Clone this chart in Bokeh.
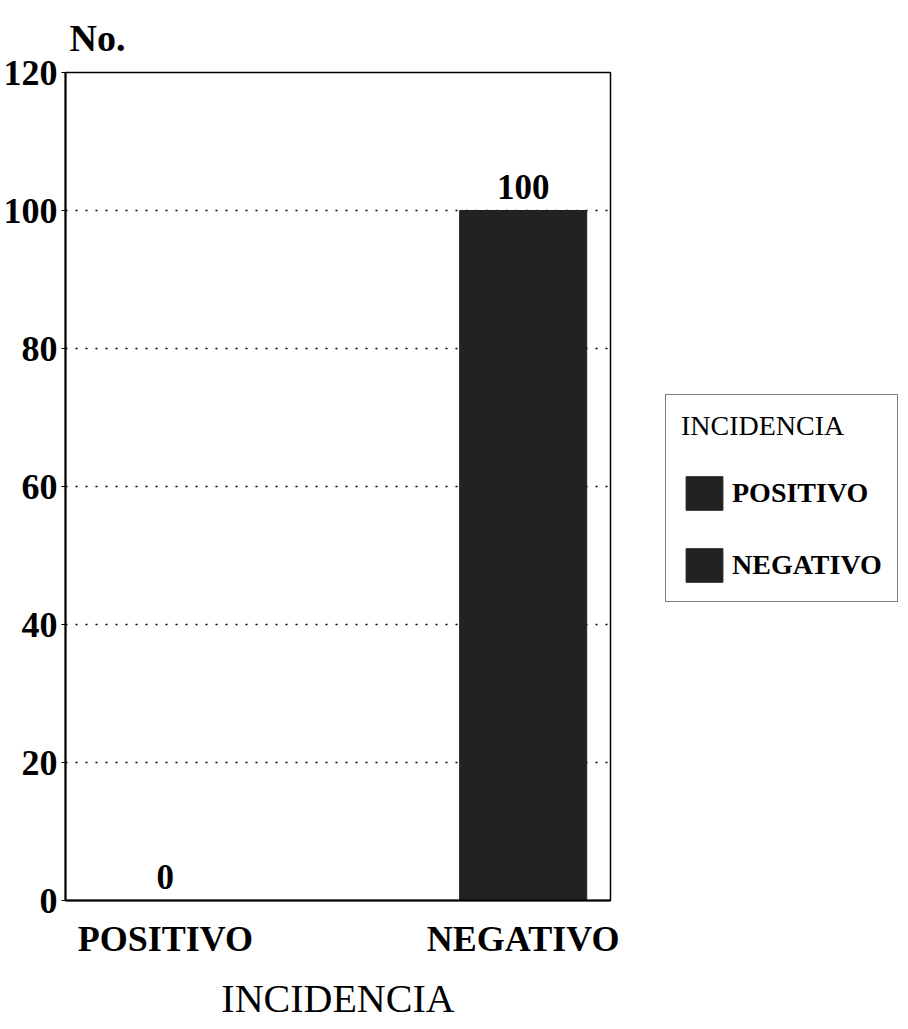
from bokeh.plotting import figure
from bokeh.models import ColumnDataSource, Legend, LegendItem, FixedTicker, Range1d
from bokeh.core.properties import value
from bokeh.embed import file_html
from bokeh.resources import INLINE

categories = ["POSITIVO", "NEGATIVO"]
counts = [0, 100]
value_labels = ["0", "100"]
y_ticks = [0, 20, 40, 60, 80, 100, 120]
legend_title = "INCIDENCIA"
x_title = "INCIDENCIA"
y_title = "No."

FONT = "Liberation Serif"
BAR = "#222222"

positions = list(range(len(categories)))
source = ColumnDataSource(dict(x=positions, top=counts, cat=categories, lab=value_labels))

p = figure(frame_width=545, frame_height=828,
           output_backend="svg", toolbar_location=None,
           x_range=Range1d(-0.279, 1.244), y_range=Range1d(0, 120),
           min_border_left=57, min_border_top=72, min_border_bottom=108, min_border_right=20)

p.title.text = y_title
p.title.text_font = FONT
p.title.text_font_size = "38px"
p.title.text_font_style = "bold"
p.title.text_color = "black"
p.title.align = "left"
p.title.offset = 4
p.title.standoff = 28

r = p.vbar(x="x", top="top", width=0.355, source=source, fill_color=BAR, line_color=BAR)

p.text(x="x", y="top", text="lab", source=source, y_offset=-12,
       text_align="center", text_baseline="bottom",
       text_font=value(FONT), text_font_size="35px", text_font_style="bold", text_color="black")

p.xaxis.ticker = FixedTicker(ticks=positions)
p.xaxis.major_label_overrides = {i: c for i, c in zip(positions, categories)}
p.xaxis.major_label_text_font = FONT
p.xaxis.major_label_text_font_size = "36px"
p.xaxis.major_label_text_font_style = "bold"
p.xaxis.major_label_text_color = "black"
p.xaxis.major_label_standoff = 12
p.xaxis.major_tick_line_color = None
p.xaxis.minor_tick_line_color = None
p.xaxis.axis_label = x_title
p.xaxis.axis_label_text_font = FONT
p.xaxis.axis_label_text_font_size = "40px"
p.xaxis.axis_label_text_font_style = "normal"
p.xaxis.axis_label_text_color = "black"
p.xaxis.axis_label_standoff = 14

p.yaxis.ticker = FixedTicker(ticks=y_ticks)
p.yaxis.major_label_text_font = FONT
p.yaxis.major_label_text_font_size = "36px"
p.yaxis.major_label_text_font_style = "bold"
p.yaxis.major_label_text_color = "black"
p.yaxis.major_label_standoff = 4
p.yaxis.major_tick_out = 4
p.yaxis.major_tick_in = 0
p.yaxis.minor_tick_line_color = None

for ax in (p.xaxis, p.yaxis):
    ax.axis_line_color = "black"
    ax.axis_line_width = 2

p.yaxis.major_tick_line_color = "black"

p.xgrid.grid_line_color = None
p.ygrid.ticker = FixedTicker(ticks=y_ticks[1:-1])
p.ygrid.grid_line_color = "black"
p.ygrid.grid_line_dash = "2 8"
p.ygrid.grid_line_width = 1.5

p.outline_line_color = "black"
p.outline_line_width = 1.5

legend = Legend(items=[LegendItem(label=c, renderers=[r], index=i) for i, c in enumerate(categories)],
                title=legend_title, location=(55, 298))
legend.title_text_font = FONT
legend.title_text_font_size = "28px"
legend.title_text_font_style = "normal"
legend.title_text_color = "black"
legend.title_standoff = 30
legend.label_text_font = FONT
legend.label_text_font_size = "28px"
legend.label_text_font_style = "bold"
legend.label_text_color = "black"
legend.glyph_width = 46
legend.glyph_height = 42
legend.label_height = 42
legend.label_standoff = 5
legend.spacing = 30
legend.padding = 15
legend.margin = 0
legend.border_line_color = "black"
legend.border_line_width = 1.5
legend.background_fill_color = "white"
p.add_layout(legend, "right")

open("out.html", "w").write(file_html(p, INLINE))
